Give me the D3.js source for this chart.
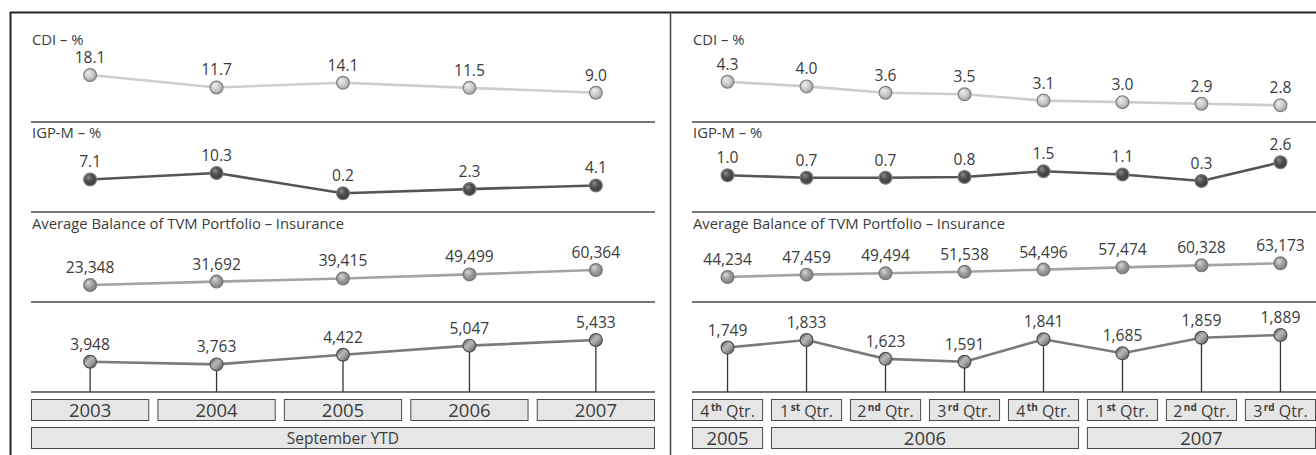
<!DOCTYPE html>
<html>
<head>
<meta charset="utf-8">
<script src="https://cdn.jsdelivr.net/npm/d3@7"></script>
<style>
  body { margin: 0; background: #fff; }
  svg { display: block; }
  text { font-family: 'Open Sans', sans-serif; fill: #3c3c3c; }
</style>
</head>
<body>
<svg id="chart" width="1316" height="455"></svg>
<script>
// ---- data ----
const yearsLeft = ['2003', '2004', '2005', '2006', '2007'];
const periodLeft = 'September YTD';
const cdiLeft = [18.1, 11.7, 14.1, 11.5, 9.0];
const igpmLeft = [7.1, 10.3, 0.2, 2.3, 4.1];
const balanceLeft = [23348, 31692, 39415, 49499, 60364];
const incomeLeft = [3948, 3763, 4422, 5047, 5433];

const quarterNum = ['4', '1', '2', '3', '4', '1', '2', '3'];
const quarterSup = ['th', 'st', 'nd', 'rd', 'th', 'st', 'nd', 'rd'];
const quarterYears = ['2005', '2006', '2006', '2006', '2006', '2007', '2007', '2007'];
const cdiRight = [4.3, 4.0, 3.6, 3.5, 3.1, 3.0, 2.9, 2.8];
const igpmRight = [1.0, 0.7, 0.7, 0.8, 1.5, 1.1, 0.3, 2.6];
const balanceRight = [44234, 47459, 49494, 51538, 54496, 57474, 60328, 63173];
const incomeRight = [1749, 1833, 1623, 1591, 1841, 1685, 1859, 1889];

const rowTitles = ['CDI – %', 'IGP-M – %', 'Average Balance of TVM Portfolio – Insurance', ''];

const svg = d3.select('#chart');
const defs = svg.append('defs');

// sphere-ish marker fills
function radial(id, stops) {
    const g = defs.append('radialGradient').attr('id', id).attr('cx', '45%').attr('cy', '45%').attr('r', '60%').attr('fx', '35%').attr('fy', '30%');
    stops.forEach(s => g.append('stop').attr('offset', s[0]).attr('stop-color', s[1]));
}
radial('g-cdi', [[0, '#eeeeee'], [0.55, '#cbcbcb'], [1, '#9c9c9c']]);
radial('g-igp', [[0, '#8c8c8c'], [0.5, '#4e4e4e'], [1, '#383838']]);
radial('g-bal', [[0, '#d8d8d8'], [0.55, '#9c9c9c'], [1, '#7a7a7a']]);
const lg = defs.append('linearGradient').attr('id', 'g-inc').attr('x1', 0).attr('y1', 0).attr('x2', 1).attr('y2', 1);
[[0, '#444'], [0.4, '#b8b8b8'], [0.6, '#a0a0a0'], [1, '#444']].forEach(s => lg.append('stop').attr('offset', s[0]).attr('stop-color', s[1]));

const styles = [
    {line: '#cdcdcd', fill: 'url(#g-cdi)', stroke: '#7f7f7f', fmt: d3.format('.1f')},
    {line: '#555555', fill: 'url(#g-igp)', stroke: '#7a7a7a', fmt: d3.format('.1f')},
    {line: '#a3a3a3', fill: 'url(#g-bal)', stroke: '#777777', fmt: d3.format(',')},
    {line: '#7a7a7a', fill: 'url(#g-inc)', stroke: '#505050', fmt: d3.format(',')}
];

// row geometry: separator above the row, title baseline
const rowTop = [12, 122, 212, 302];
const titleY = [45, 138, 229, 0];
const axisY = 392;

function panel(cfg) {
    const n = cfg.series[0].length;
    const x = d3.scaleBand().domain(d3.range(n)).range([cfg.x0, cfg.x1]).paddingInner(cfg.pad);
    const cx = i => x(i) + x.bandwidth() / 2;
    const g = svg.append('g');

    // separators + axis line
    rowTop.slice(1).concat([axisY]).forEach(y => {
        g.append('line').attr('x1', cfg.x0).attr('x2', cfg.x1).attr('y1', y).attr('y2', y)
            .attr('stroke', '#4a4a4a').attr('stroke-width', 1.5);
    });

    cfg.series.forEach((vals, r) => {
        const st = styles[r];
        const y = d3.scaleLinear().domain(d3.extent(vals)).range(cfg.yRanges[r]);
        if (rowTitles[r]) {
            g.append('text').attr('x', cfg.x0 + 1).attr('y', titleY[r]).style('font-size', '14.8px').text(rowTitles[r]);
        }
        if (r === 3) {
            g.selectAll(null).data(vals).enter().append('line')
                .attr('x1', (d, i) => cx(i)).attr('x2', (d, i) => cx(i))
                .attr('y1', d => y(d)).attr('y2', axisY)
                .attr('stroke', '#333').attr('stroke-width', 1.3);
        }
        const line = d3.line().x((d, i) => cx(i)).y(d => y(d));
        g.append('path').datum(vals).attr('d', line).attr('fill', 'none')
            .attr('stroke', st.line).attr('stroke-width', 2.6);
        g.selectAll(null).data(vals).enter().append('circle')
            .attr('cx', (d, i) => cx(i)).attr('cy', d => y(d)).attr('r', 6.4)
            .attr('fill', st.fill).attr('stroke', st.stroke).attr('stroke-width', 1.2);
        g.selectAll(null).data(vals).enter().append('text')
            .attr('x', (d, i) => cx(i)).attr('y', d => y(d) - 12)
            .attr('text-anchor', 'middle').style('font-size', '15.6px')
            .text(d => st.fmt(d));
    });

    // category boxes
    const boxes = g.selectAll(null).data(d3.range(n)).enter().append('g');
    boxes.append('rect').attr('x', i => x(i) + 0.5).attr('y', 399.5).attr('width', x.bandwidth() - 1).attr('height', 21)
        .attr('fill', '#e6e6e6').attr('stroke', '#4a4a4a').attr('stroke-width', 1);
    cfg.boxLabel(boxes, cx);

    // grouping boxes underneath
    cfg.groups.forEach(grp => {
        const a = x(grp.first), b = x(grp.last) + x.bandwidth();
        g.append('rect').attr('x', a + 0.5).attr('y', 427.5).attr('width', b - a - 1).attr('height', 21)
            .attr('fill', '#e6e6e6').attr('stroke', '#4a4a4a').attr('stroke-width', 1);
        g.append('text').attr('x', (a + b) / 2).attr('y', grp.base).attr('text-anchor', 'middle')
            .style('font-size', grp.font).text(grp.label);
    });
}

// left: years
panel({
    x0: 31, x1: 655, pad: 0.065,
    series: [cdiLeft, igpmLeft, balanceLeft, incomeLeft],
    yRanges: [[92.7, 75], [193.3, 173], [285, 270], [364.4, 340]],
    boxLabel: (sel, cx) => sel.append('text').attr('x', i => cx(i)).attr('y', 417).attr('text-anchor', 'middle')
        .style('font-size', '18.5px').text(i => yearsLeft[i]),
    groups: [{first: 0, last: yearsLeft.length - 1, label: periodLeft, base: 443.5, font: '15.5px'}]
});

// right: quarters
const yearGroups = d3.groups(d3.range(quarterYears.length), i => quarterYears[i])
    .map(([k, idx]) => ({first: idx[0], last: idx[idx.length - 1], label: k, base: 445, font: '18.5px'}));
panel({
    x0: 692, x1: 1316, pad: 0.1,
    series: [cdiRight, igpmRight, balanceRight, incomeRight],
    yRanges: [[105.3, 81.7], [181, 162.3], [277, 263.3], [361.7, 335]],
    boxLabel: (sel, cx) => {
        const t = sel.append('text').attr('x', i => cx(i)).attr('y', 416.5).attr('text-anchor', 'middle').style('font-size', '16px');
        t.append('tspan').text(i => quarterNum[i]);
        t.append('tspan').attr('dx', 1.5).attr('dy', -5.5).style('font-size', '10px').style('font-weight', 'bold').text(i => quarterSup[i]);
        t.append('tspan').attr('dy', 5.5).text(' Qtr.');
    },
    groups: yearGroups
});

// frame
svg.append('line').attr('x1', 10).attr('x2', 1316).attr('y1', 12.5).attr('y2', 12.5).attr('stroke', '#222').attr('stroke-width', 2.2);
svg.append('line').attr('x1', 10.5).attr('x2', 10.5).attr('y1', 12).attr('y2', 455).attr('stroke', '#222').attr('stroke-width', 2);
svg.append('line').attr('x1', 670.5).attr('x2', 670.5).attr('y1', 12).attr('y2', 455).attr('stroke', '#444').attr('stroke-width', 1.5);
</script>
</body>
</html>
